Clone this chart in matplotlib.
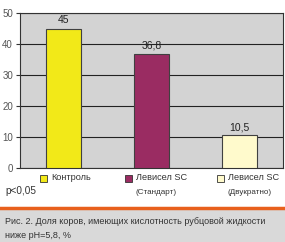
import matplotlib.pyplot as plt
import matplotlib.patches as mpatches
import matplotlib.lines as mlines

# data
labels = ["Контроль", "Левисел SC\n(Стандарт)", "Левисел SC\n(Двукратно)"]
values = [45, 36.8, 10.5]
value_text = ["45", "36,8", "10,5"]
yticks = [0, 10, 20, 30, 40, 50]
colors = ["#f2e918", "#9a2c62", "#fffacc"]

plt.rcParams['font.family'] = ['Liberation Sans', 'DejaVu Sans']

W, H = 285, 242
fig = plt.figure(figsize=(W / 100, H / 100), dpi=100)
fig.patch.set_facecolor("white")

# plot area
ax = fig.add_axes([20 / W, (H - 168) / H, 263 / W, 155 / H])
ax.set_facecolor("#d3d3d3")
x = [0.5, 1.5, 2.5]
ax.bar(x, values, width=0.4, color=colors, edgecolor="#404040", linewidth=0.8, zorder=3)
for xi, v, t in zip(x, values, value_text):
    ax.text(xi, v + 1.0, t, ha="center", va="bottom", fontsize=7.5, color="#222222", zorder=4)
ax.set_xlim(0, 3)
ax.set_ylim(0, 50)
ax.set_yticks(yticks)
ax.set_yticklabels([str(t) for t in yticks], fontsize=7, color="#555555")
ax.set_xticks([])
ax.yaxis.grid(True, color="#222222", linewidth=0.8, zorder=1)
ax.tick_params(axis="y", length=3, width=0.8, color="#333333", pad=2)
for s in ax.spines.values():
    s.set_color("#333333")
    s.set_linewidth(0.8)

# legend under the bars
leg_x = [40, 125, 217]
for lx, c, lab in zip(leg_x, colors, labels):
    fig.patches.append(mpatches.Rectangle((lx / W, (H - 182) / H), 7 / W, 7 / H,
                                          transform=fig.transFigure, facecolor=c,
                                          edgecolor="#333333", linewidth=0.6))
    lines = lab.split("\n")
    fig.text((lx + 11) / W, (H - 178) / H, lines[0], fontsize=6.6, color="#333333", va="center")
    if len(lines) > 1:
        fig.text((lx + 11) / W, (H - 193) / H, lines[1], fontsize=5.8, color="#333333", va="center")

fig.text(5 / W, (H - 191) / H, "p<0,05", fontsize=7.2, color="#333333", va="center")

# caption box
fig.patches.append(mpatches.Rectangle((0, 0), 1, (H - 209) / H, transform=fig.transFigure,
                                      facecolor="#d9d9d9", edgecolor="none"))
fig.lines.append(mlines.Line2D([0, 1], [(H - 208) / H] * 2, transform=fig.transFigure,
                               color="#e8601c", linewidth=2.5))
fig.text(5 / W, (H - 221) / H, "Рис. 2. Доля коров, имеющих кислотность рубцовой жидкости",
         fontsize=6.5, color="#333333", va="center")
fig.text(5 / W, (H - 235) / H, "ниже pH=5,8, %", fontsize=6.5, color="#333333", va="center")

fig.savefig("out.png", dpi=100)
